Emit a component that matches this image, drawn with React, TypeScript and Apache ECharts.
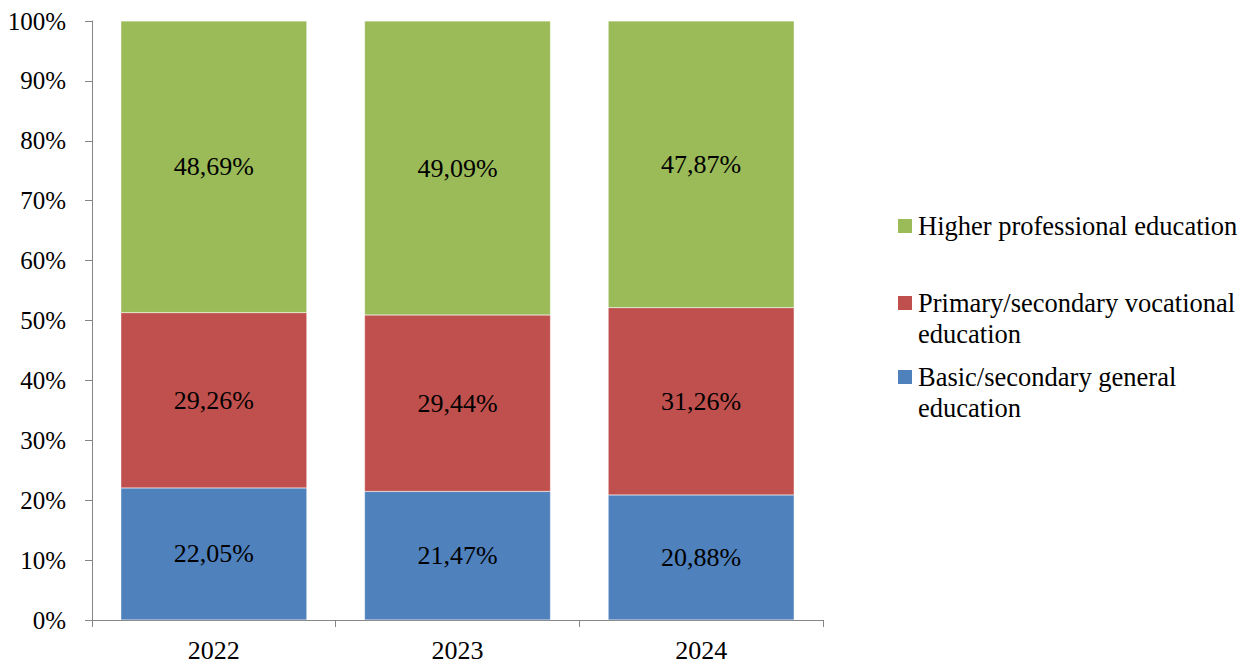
import React, { useEffect, useRef } from "react";
import * as echarts from "echarts";

const categories = ["2022", "2023", "2024"];
const basicGeneral = [22.05, 21.47, 20.88];
const primaryVocational = [29.26, 29.44, 31.26];
const higherProfessional = [48.69, 49.09, 47.87];
const seriesNames = [
  "Basic/secondary general education",
  "Primary/secondary vocational education",
  "Higher professional education",
];
const legendLines = [
  ["Basic/secondary general", "education"],
  ["Primary/secondary vocational", "education"],
  ["Higher professional education"],
];
const colors = ["#4F81BD", "#C0504D", "#9BBB59"];
const FONT = "Times New Roman, Liberation Serif, serif";

export default function App() {
  const ref = useRef<HTMLDivElement>(null);
  useEffect(() => {
    const chart = echarts.init(ref.current!, null, { renderer: "svg" });
    const dataSets = [basicGeneral, primaryVocational, higherProfessional];
    const legendTops = [370, 296, 219];
    const graphic: any[] = [];
    legendLines.forEach((lines, i) => {
      graphic.push({
        type: "rect",
        left: 898,
        top: legendTops[i],
        shape: { width: 14, height: 14 },
        style: { fill: colors[i] },
      });
      graphic.push({
        type: "text",
        left: 918,
        top: legendTops[i] - 9,
        style: {
          text: lines.join("\n"),
          fontFamily: FONT,
          fontSize: 26.5,
          lineHeight: 31,
          fill: "#000",
        },
      });
    });
    chart.setOption({
      animation: false,
      textStyle: { fontFamily: FONT },
      grid: { left: 92, right: 433, top: 21, bottom: 43 },
      xAxis: {
        type: "category",
        data: categories,
        axisLine: { lineStyle: { color: "#868686", width: 1 } },
        axisTick: { show: true, length: 7, lineStyle: { color: "#868686" } },
        axisLabel: { color: "#000", fontSize: 26, fontFamily: FONT, margin: 17 },
      },
      yAxis: {
        type: "value",
        min: 0,
        max: 100,
        interval: 10,
        axisLine: { show: true, lineStyle: { color: "#868686", width: 1 } },
        axisTick: { show: true, length: 7, lineStyle: { color: "#868686" } },
        splitLine: { show: false },
        axisLabel: {
          color: "#000",
          fontSize: 25,
          fontFamily: FONT,
          margin: 26,
          formatter: (v: number) => `${v}%`,
        },
      },
      graphic,
      series: dataSets.map((d, i) => ({
        name: seriesNames[i],
        type: "bar",
        stack: "total",
        data: d,
        barWidth: 186,
        itemStyle: { color: colors[i], borderColor: "rgba(255,255,255,0.5)", borderWidth: 0.5 },
        label: {
          show: true,
          position: "inside",
          color: "#000",
          fontSize: 26,
          fontFamily: FONT,
          formatter: (p: any) => `${p.value.toFixed(2).replace(".", ",")}%`,
        },
      })),
    });
    return () => chart.dispose();
  }, []);
  return (
    <div
      ref={ref}
      style={{ position: "fixed", left: 0, top: 0, width: 1256, height: 663, background: "#fff" }}
    />
  );
}
